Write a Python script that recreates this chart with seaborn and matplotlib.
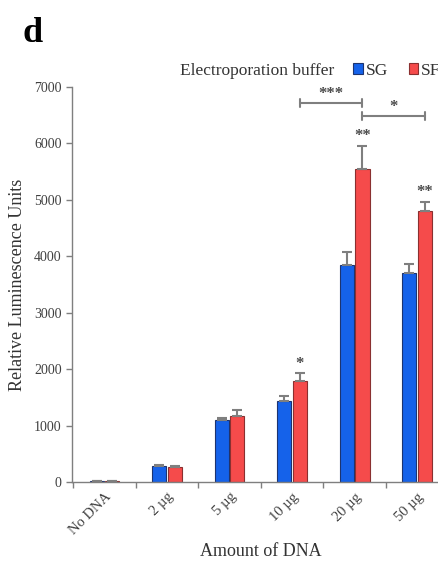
import numpy as np
import pandas as pd
import matplotlib
matplotlib.use("Agg")
import matplotlib.pyplot as plt
import seaborn as sns

# Values
doses = ["No DNA", "2 µg", "5 µg", "10 µg", "20 µg", "50 µg"]
buffers = ["SG", "SF"]
sg_mean = [10, 280, 1100, 1430, 3850, 3700]
sg_err = [5, 20, 35, 95, 230, 170]
sf_mean = [10, 265, 1170, 1790, 5550, 4800]
sf_err = [5, 20, 110, 140, 410, 160]

# significance marks: (dose index, text, y)
single_marks = [(3, "*", 2090), (4, "**", 6130), (5, "**", 5140)]
# brackets between SF bars: (from dose, to dose, text, y)
brackets = [(3, 4, "***", 6720), (4, 5, "*", 6490)]

colors = {"SG": "#1562ea", "SF": "#f54b4b"}
edges = {"SG": "#1d3470", "SF": "#8a3030"}
grey = "#7f7f7f"

df = pd.DataFrame({
    "dose": doses * 2,
    "buffer": ["SG"] * len(doses) + ["SF"] * len(doses),
    "rlu": sg_mean + sf_mean,
})

sns.set_style("white")
plt.rcParams["font.family"] = ["Liberation Serif", "DejaVu Serif"]

fig = plt.figure(figsize=(4.39, 5.62), dpi=100)
ax = fig.add_axes([0.164, 0.1423, 0.859, 0.7028])

sns.barplot(data=df, x="dose", y="rlu", hue="buffer", hue_order=buffers,
            order=doses, palette=colors, width=0.5, gap=0.1, saturation=1,
            errorbar=None, legend=False, ax=ax)

# outline + upward error bars, positions taken from the drawn bars
centers = {}
for cont, buf, err in zip(ax.containers, buffers, [sg_err, sf_err]):
    xs, tops = [], []
    for p in cont.patches:
        p.set_edgecolor(edges[buf])
        p.set_linewidth(0.8)
        xs.append(p.get_x() + p.get_width() / 2)
        tops.append(p.get_height())
    centers[buf] = xs
    ax.errorbar(xs, tops, yerr=[np.zeros(len(err)), err], fmt="none",
                ecolor=grey, elinewidth=1.5, capsize=3.5, capthick=1.5,
                zorder=1)

for i, txt, y in single_marks:
    ax.text(centers["SF"][i], y, txt, ha="center", va="center",
            fontsize=12, color="#4a4a4a", fontweight="bold")

for a, b, txt, y in brackets:
    x0, x1 = centers["SF"][a], centers["SF"][b]
    ax.plot([x0, x1], [y, y], color=grey, lw=1.5, clip_on=False)
    for xx in (x0, x1):
        ax.plot([xx, xx], [y - 70, y + 70], color=grey, lw=1.5, clip_on=False)
    ax.text((x0 + x1) / 2, y + 10, txt, ha="center", va="bottom",
            fontsize=12, color="#4a4a4a", fontweight="bold")

ax.set_xlim(-0.52, 5.51)
ax.set_ylim(0, 7000)
ax.set_yticks(range(0, 7001, 1000))
ax.set_xticks(range(len(doses)))
ax.set_xticklabels(doses, rotation=45, ha="right", rotation_mode="anchor")
ax.set_xticks(np.arange(-0.5, len(doses), 1), minor=True)
ax.tick_params(axis="x", which="major", length=0, pad=6, labelsize=10.5,
               labelcolor="#404040")
ax.tick_params(axis="x", which="minor", length=4, width=1, color=grey,
               direction="out", bottom=True)
ax.tick_params(axis="y", length=4, width=1, color=grey, direction="out",
               left=True, labelsize=10, labelcolor="#404040")

for side in ["top", "right"]:
    ax.spines[side].set_visible(False)
for side in ["left", "bottom"]:
    ax.spines[side].set_color(grey)
    ax.spines[side].set_linewidth(1)

ax.set_xlabel("Amount of DNA", fontsize=13, color="#333333", labelpad=4)
ax.set_ylabel("Relative Luminescence Units", fontsize=13, color="#333333",
              labelpad=6)

# panel letter and legend
fig.text(0.052, 0.925, "d", fontsize=26, fontweight="bold", color="black")
fig.text(0.41, 0.874, "Electroporation buffer", fontsize=12.5,
         color="#333333", va="center")
handles = [plt.Rectangle((0, 0), 1, 1, facecolor=colors[b],
                         edgecolor=edges[b], lw=0.8) for b in buffers]
fig.legend(handles, buffers, loc="center left", bbox_to_anchor=(0.805, 0.874),
           ncol=2, frameon=False, handlelength=0.55, handleheight=0.55,
           handletextpad=0.15, columnspacing=1.2, fontsize=12.5,
           borderaxespad=0, borderpad=0, labelcolor="#333333")

fig.savefig("out.png", dpi=100)
